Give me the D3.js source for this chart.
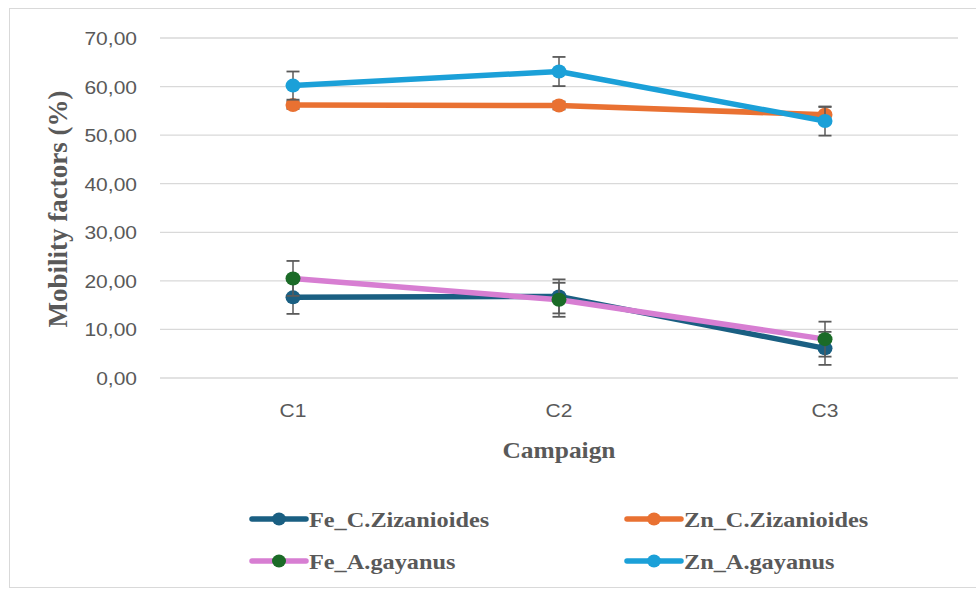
<!DOCTYPE html>
<html>
<head>
<meta charset="utf-8">
<script src="https://cdn.jsdelivr.net/npm/d3@7"></script>
<style>
  html, body { margin: 0; padding: 0; background: #fff; }
  svg { display: block; }
</style>
</head>
<body>
<svg id="chart" width="976" height="592"></svg>
<script>
// Campaigns on the x axis
const campaigns = ["C1", "C2", "C3"];
// Y axis ticks
const yTicks = [0, 10, 20, 30, 40, 50, 60, 70];

// Series names
const seriesNames = ["Fe_C.Zizanioides", "Zn_C.Zizanioides", "Fe_A.gayanus", "Zn_A.gayanus"];
// Mean mobility factors (%) per campaign
const feCZ = [16.6, 16.8, 6.1];
const znCZ = [56.2, 56.1, 54.2];
const feAG = [20.5, 16.1, 8.0];
const znAG = [60.2, 63.1, 52.9];
// Standard deviations per campaign
const feCZErr = [3.4, 3.5, 3.4];
const znCZErr = [0.8, 0.8, 1.6];
const feAGErr = [3.6, 3.5, 3.6];
const znAGErr = [2.9, 3.0, 3.0];

const series = [
  { name: seriesNames[0], values: feCZ, err: feCZErr, line: "#1a5f82", marker: "#1a5f82" },
  { name: seriesNames[1], values: znCZ, err: znCZErr, line: "#e97132", marker: "#e97132" },
  { name: seriesNames[2], values: feAG, err: feAGErr, line: "#d77ed2", marker: "#1b6b27" },
  { name: seriesNames[3], values: znAG, err: znAGErr, line: "#1ba0d8", marker: "#1ba0d8" }
];
// Draw order: Zn lines first, then Fe lines on top of each other
const drawOrder = [1, 3, 0, 2];

// Horizontal text is drawn slightly widened
const SX = 1.13;
const sans = "'Liberation Sans', Arial, sans-serif";
const serif = "'Liberation Serif', 'Times New Roman', serif";

const svg = d3.select("#chart");

// Chart frame
svg.append("rect")
  .attr("x", 9.5).attr("y", 8.5)
  .attr("width", 980).attr("height", 579)
  .attr("fill", "#fff").attr("stroke", "#d9d9d9").attr("stroke-width", 1);

const plot = { left: 160, right: 958, top: 38, bottom: 378 };

const x = d3.scaleBand().domain(campaigns).range([plot.left, plot.right]);
const y = d3.scaleLinear().domain([0, 70]).range([plot.bottom, plot.top]);

// Horizontal gridlines
svg.append("g")
  .selectAll("line")
  .data(yTicks)
  .join("line")
  .attr("x1", plot.left).attr("x2", plot.right)
  .attr("y1", d => y(d)).attr("y2", d => y(d))
  .attr("stroke", "#d9d9d9").attr("stroke-width", 1.3);

// Y axis labels
const fmt = d => d3.format(".2f")(d).replace(".", ",");
svg.append("g")
  .selectAll("text")
  .data(yTicks)
  .join("text")
  .attr("transform", d => `translate(137,${y(d) + 7}) scale(${SX},1)`)
  .attr("text-anchor", "end")
  .attr("fill", "#595959")
  .style("font-family", sans)
  .style("font-size", "18.6px")
  .text(fmt);

const cx = c => x(c) + x.bandwidth() / 2;

// X axis labels
svg.append("g")
  .selectAll("text")
  .data(campaigns)
  .join("text")
  .attr("transform", d => `translate(${cx(d)},417) scale(${SX},1)`)
  .attr("text-anchor", "middle")
  .attr("fill", "#595959")
  .style("font-family", sans)
  .style("font-size", "18.6px")
  .text(d => d);

// Axis titles
svg.append("text")
  .attr("transform", `translate(67,209) rotate(-90)`)
  .attr("text-anchor", "middle")
  .attr("fill", "#595959")
  .style("font-family", serif)
  .style("font-weight", "bold")
  .style("font-size", "27px")
  .text("Mobility factors (%)");

svg.append("text")
  .attr("transform", `translate(${cx("C2")},458) scale(${SX},1)`)
  .attr("text-anchor", "middle")
  .attr("fill", "#595959")
  .style("font-family", serif)
  .style("font-weight", "bold")
  .style("font-size", "22.5px")
  .text("Campaign");

const line = d3.line().x(d => cx(d.c)).y(d => y(d.v));

const gSeries = svg.append("g");
drawOrder.forEach(i => {
  const s = series[i];
  const pts = campaigns.map((c, k) => ({ c, v: s.values[k], e: s.err[k] }));
  const g = gSeries.append("g");
  g.append("path")
    .datum(pts)
    .attr("d", line)
    .attr("fill", "none")
    .attr("stroke", s.line)
    .attr("stroke-width", 5.5)
    .attr("stroke-linejoin", "round");
  // Error bars
  const eb = g.selectAll("g.err").data(pts).join("g").attr("class", "err");
  eb.append("line")
    .attr("x1", d => cx(d.c)).attr("x2", d => cx(d.c))
    .attr("y1", d => y(d.v - d.e)).attr("y2", d => y(d.v + d.e))
    .attr("stroke", "#5a5a5a").attr("stroke-width", 1.5);
  eb.selectAll("line.cap")
    .data(d => [d.v - d.e, d.v + d.e].map(v => ({ c: d.c, v })))
    .join("line").attr("class", "cap")
    .attr("x1", d => cx(d.c) - 6.5).attr("x2", d => cx(d.c) + 6.5)
    .attr("y1", d => y(d.v)).attr("y2", d => y(d.v))
    .attr("stroke", "#5a5a5a").attr("stroke-width", 1.8);
  g.selectAll("ellipse")
    .data(pts)
    .join("ellipse")
    .attr("cx", d => cx(d.c)).attr("cy", d => y(d.v))
    .attr("rx", 7.5).attr("ry", 7)
    .attr("fill", s.marker);
});

// Legend
const legendPos = [
  { x: 252, y: 519 }, { x: 627, y: 519 },
  { x: 252, y: 561 }, { x: 627, y: 561 }
];
const legend = svg.append("g");
series.forEach((s, i) => {
  const p = legendPos[i];
  const g = legend.append("g").attr("transform", `translate(${p.x},${p.y})`);
  g.append("line")
    .attr("x1", 0).attr("x2", 54).attr("y1", 0).attr("y2", 0)
    .attr("stroke", s.line).attr("stroke-width", 5.5).attr("stroke-linecap", "round");
  g.append("ellipse").attr("cx", 27).attr("cy", 0).attr("rx", 7).attr("ry", 6.5).attr("fill", s.marker);
  g.append("text")
    .attr("transform", `translate(57,8) scale(${SX},1)`)
    .attr("fill", "#595959")
    .style("font-family", serif)
    .style("font-weight", "bold")
    .style("font-size", "21.5px")
    .text(s.name);
});
</script>
</body>
</html>
